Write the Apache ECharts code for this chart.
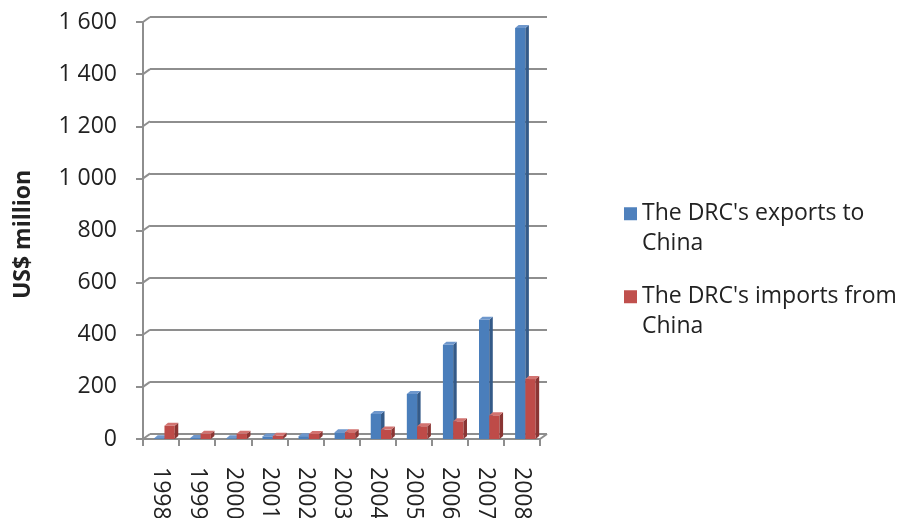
<!DOCTYPE html>
<html>
<head>
<meta charset="utf-8">
<title>DRC trade with China</title>
<script src="https://cdn.jsdelivr.net/npm/echarts@6/dist/echarts.min.js"></script>
<style>
  html, body { margin: 0; padding: 0; background: #ffffff; }
  #chart { width: 903px; height: 518px; }
</style>
</head>
<body>
<div id="chart"></div>
<script>
// Years on the category axis
const years = ['1998', '1999', '2000', '2001', '2002', '2003', '2004', '2005', '2006', '2007', '2008'];
// US$ million
const exportsToChina = [3, 4, 3, 10, 11, 26, 96, 173, 362, 458, 1577];
const importsFromChina = [51, 20, 20, 12, 19, 26, 36, 49, 68, 91, 230];
// Value axis ticks
const yTicks = [0, 200, 400, 600, 800, 1000, 1200, 1400, 1600];
const seriesNames = ["The DRC's exports to China", "The DRC's imports from China"];

const FONT = 'Open Sans';
const TEXT = '#222222';
const LINE = '#8e8e8e';
// Depth offset of the back wall and of the block sides
const WALL_DX = 7, WALL_DY = -5;
const BAR_DX = 3.5, BAR_DY = -3;
// Front plot box
const G_LEFT = 143, G_RIGHT = 363, G_TOP = 22, G_BOTTOM = 79;

function fmtTick(v) {
  const s = String(v);
  return s.length > 3 ? s.slice(0, s.length - 3) + ' ' + s.slice(-3) : s;
}

// A column drawn as a block: front face, right side and top face
function blockRenderer(offsetFrac, widthFrac, front, side, top) {
  return function (params, api) {
    const cat = api.value(0);
    const val = api.value(1);
    const base = api.coord([cat, 0]);
    const head = api.coord([cat, val]);
    const w = api.size([1, 0])[0];
    const x0 = base[0] + offsetFrac * w;
    const bw = widthFrac * w;
    const y0 = base[1];
    const y1 = head[1];
    return {
      type: 'group',
      children: [
        { type: 'rect', shape: { x: x0, y: y1, width: bw, height: y0 - y1 }, style: { fill: front } },
        { type: 'polygon', shape: { points: [[x0 + bw, y0], [x0 + bw + BAR_DX, y0 + BAR_DY], [x0 + bw + BAR_DX, y1 + BAR_DY], [x0 + bw, y1]] }, style: { fill: side } },
        { type: 'polygon', shape: { points: [[x0, y1], [x0 + BAR_DX, y1 + BAR_DY], [x0 + bw + BAR_DX, y1 + BAR_DY], [x0 + bw, y1]] }, style: { fill: top } }
      ]
    };
  };
}

// Side-wall edges joining the front axis to the back gridlines
function wallRenderer(params, api) {
  const v = api.value(1);
  const p = api.coord([0, v]);
  const w = api.size([1, 0])[0];
  const left = p[0] - w / 2;
  const children = [{
    type: 'line',
    shape: { x1: left, y1: p[1], x2: left + WALL_DX, y2: p[1] + WALL_DY },
    style: { stroke: LINE, lineWidth: 2 }
  }];
  if (v === 0) {
    const right = api.coord([years.length - 1, 0])[0] + w / 2;
    children.push({
      type: 'line',
      shape: { x1: right, y1: p[1], x2: right + WALL_DX, y2: p[1] + WALL_DY },
      style: { stroke: LINE, lineWidth: 2 }
    });
  }
  return { type: 'group', children: children };
}

const chart = echarts.init(document.getElementById('chart'), null, { renderer: 'canvas' });

chart.setOption({
  backgroundColor: '#ffffff',
  animation: false,
  textStyle: { fontFamily: FONT },
  grid: [
    { left: G_LEFT, right: G_RIGHT, top: G_TOP, bottom: G_BOTTOM, outerBoundsMode: 'none', containLabel: false },
    { left: G_LEFT + WALL_DX, right: G_RIGHT - WALL_DX, top: G_TOP + WALL_DY, bottom: G_BOTTOM - WALL_DY, outerBoundsMode: 'none', containLabel: false }
  ],
  legend: {
    data: seriesNames,
    orient: 'vertical',
    left: 624,
    top: 169.5,
    padding: 0,
    itemGap: -5.5,
    itemWidth: 13,
    itemHeight: 13,
    icon: 'rect',
    selectedMode: false,
    // first line sits level with the swatch, the second wraps below it
    formatter: function (name) { return '\n' + name.replace(/ China$/, '\nChina'); },
    textStyle: {
      fontFamily: FONT,
      fontSize: 23,
      color: TEXT,
      lineHeight: 29.5
    }
  },
  xAxis: [
    {
      gridIndex: 0,
      type: 'category',
      data: years,
      axisLine: { show: true, lineStyle: { color: LINE, width: 2 } },
      axisTick: { show: true, length: 7, lineStyle: { color: LINE, width: 2 } },
      axisLabel: { interval: 0, rotate: -90, margin: 28, fontFamily: FONT, fontSize: 23, color: TEXT },
      splitLine: { show: false }
    },
    {
      gridIndex: 1,
      type: 'category',
      data: years,
      show: false
    }
  ],
  yAxis: [
    {
      gridIndex: 0,
      type: 'value',
      min: 0,
      max: 1600,
      interval: 200,
      name: 'US$ million',
      nameLocation: 'middle',
      nameGap: 108,
      nameTextStyle: { fontFamily: FONT, fontSize: 23, fontWeight: 'bold', color: TEXT, padding: [0, 8, 0, 0] },
      axisLine: { show: true, lineStyle: { color: LINE, width: 2 } },
      axisTick: { show: true, length: 7, lineStyle: { color: LINE, width: 2 } },
      axisLabel: { margin: 26, fontFamily: FONT, fontSize: 23, color: TEXT, formatter: fmtTick },
      splitLine: { show: false }
    },
    {
      gridIndex: 1,
      type: 'value',
      min: 0,
      max: 1600,
      interval: 200,
      axisLine: { show: false },
      axisTick: { show: false },
      axisLabel: { show: false },
      splitLine: { show: true, lineStyle: { color: LINE, width: 2 } }
    }
  ],
  series: [
    {
      name: 'wall',
      type: 'custom',
      xAxisIndex: 0,
      yAxisIndex: 0,
      silent: true,
      z: 1,
      renderItem: wallRenderer,
      encode: { x: 0, y: 1 },
      data: yTicks.map(function (v) { return [0, v]; })
    },
    {
      name: seriesNames[0],
      type: 'custom',
      xAxisIndex: 0,
      yAxisIndex: 0,
      itemStyle: { color: '#4f81bd' },
      renderItem: blockRenderer(-0.19, 0.285, '#4a7ebb', '#345a88', '#6e97cc'),
      encode: { x: 0, y: 1 },
      data: exportsToChina.map(function (v, i) { return [i, v]; })
    },
    {
      name: seriesNames[1],
      type: 'custom',
      xAxisIndex: 0,
      yAxisIndex: 0,
      itemStyle: { color: '#c0504d' },
      renderItem: blockRenderer(0.095, 0.285, '#be4b48', '#8a3533', '#d27370'),
      encode: { x: 0, y: 1 },
      data: importsFromChina.map(function (v, i) { return [i, v]; })
    }
  ]
});
</script>
</body>
</html>
